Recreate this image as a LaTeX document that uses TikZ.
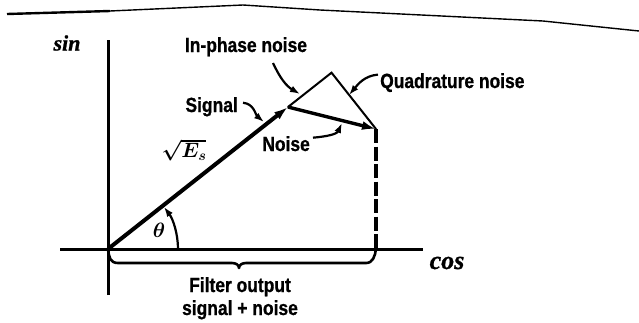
\documentclass[tikz,border=0pt]{standalone}
\usepackage{amsmath}
\usepackage{bm}
\usepackage{fontspec}
\newfontfamily\lab{Liberation Sans Bold}[FakeStretch=0.85,FakeBold=0.8]
\newfontfamily\hand{Liberation Serif Bold Italic}[FakeBold=1]
\usetikzlibrary{arrows.meta,calc}
\tikzset{
  lbl/.style={inner sep=0pt,font=\lab\fontsize{20.5}{23}\selectfont},
  lblarrow/.style={line width=2.2pt,-{Latex[length=10pt,width=7pt]}},
  vec/.style={-{Latex[length=14pt,width=9pt]}},
  axis/.style={line width=3pt},
  thinside/.style={line width=2pt,line cap=round,line join=miter},
  handtxt/.style={inner sep=0pt}
}
\begin{document}
\begin{tikzpicture}[x=1pt,y=1pt]
\useasboundingbox (0,0) rectangle (639,-322);
% scanned page edge
\draw[line width=2.4pt] (7,-14) -- (110,-11);
\draw[line width=1.4pt] (110,-11) -- (243,-5) -- (320,-10) -- (543,-21) -- (639,-31);

% key points
\coordinate (O) at (108,-249);
\coordinate (S) at (288,-107);
\coordinate (N) at (376,-129);
\coordinate (P) at ($(O)!(N)!(S)$);
\coordinate (Nx) at (376,-249);
\coordinate (xl) at (60,-249);
\coordinate (xr) at (423,-249);
\coordinate (yt) at (108,-40);
\coordinate (yb) at (108,-295);

% axes
\draw[axis] (xl) -- (xr);
\draw[axis] (yb) -- (yt);

% dashed projection
\draw[line width=3.2pt,dash pattern=on 14pt off 3.5pt] (N) -- (Nx);

% in-phase and quadrature components
\draw[thinside] (S) -- (P) -- (N);

% signal and noise vectors
\draw[vec,line width=4pt] (O) -- (S);
\draw[vec,line width=3.4pt] (S) -- (N);

% angle
\draw[line width=2.2pt,-{Latex[length=10pt,width=7pt]}] ($(O)+(70,0)$) arc[start angle=0,end angle=37,radius=70];
\node[inner sep=0pt,font=\fontsize{21}{23}\selectfont] (th) at (159,-230) {$\bm{\theta}$};

% brace
\draw[line width=2.6pt,line cap=round,line join=round]
  (O) .. controls (109,-257) and (110,-263) .. (118,-263)
  -- (232,-263) .. controls (236,-263) and (239,-265) .. (239,-268)
  .. controls (239,-265) and (242,-263) .. (246,-263)
  -- (366,-263) .. controls (373,-263) and (375,-256) .. (Nx);

% labels
\node[lbl,anchor=base] (inph) at (246,-52) {In-phase noise};
\node[lbl,anchor=base west] (quad) at (380,-88) {Quadrature noise};
\node[lbl,anchor=base east] (sig) at (238,-112) {Signal};
\node[lbl,anchor=base east] (noi) at (310,-151) {Noise};
\node[lbl,anchor=base] (fo1) at (240,-292) {Filter output};
\node[lbl,anchor=base] (fo2) at (240,-315) {signal + noise};
\node[inner sep=0pt,font=\fontsize{22}{24}\selectfont] (es) at (184,-150) {$\bm{\sqrt{E_s}}$};
\node[handtxt,font=\hand\fontsize{22}{24}\selectfont] (sin) at (67,-43) {sin};
\node[handtxt,font=\hand\fontsize{26}{28}\selectfont] (cos) at (447,-263) {cos};

% label arrows
\coordinate (tipI) at (300,-94);
\coordinate (tipQ) at (349,-95);
\coordinate (tipS) at (264,-122);
\coordinate (tipN) at (342,-123);
\draw[lblarrow] (273,-63) to[out=-65,in=150] (tipI);
\draw[lblarrow] (quad.west) ++(-2,8) coordinate (qs) to[out=185,in=50] (tipQ);
\draw[lblarrow] (sig.east) ++(5,4) coordinate (ss) to[out=-5,in=140] (tipS);
\draw[lblarrow] (noi.east) ++(3,6) coordinate (ns) to[out=5,in=-115] (tipN);
\end{tikzpicture}
\end{document}
